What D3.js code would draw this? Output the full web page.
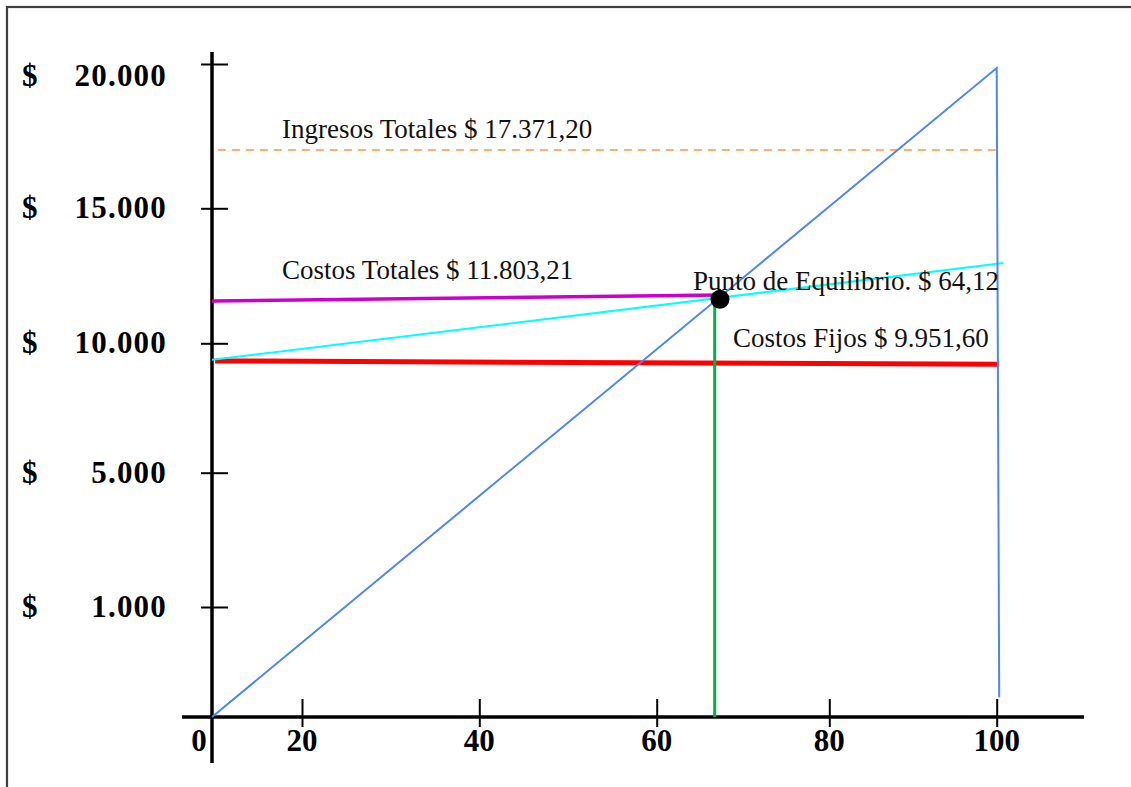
<!DOCTYPE html>
<html><head><meta charset="utf-8">
<script src="https://cdn.jsdelivr.net/npm/d3@7"></script>
<style>html,body{margin:0;padding:0;background:#fff;overflow:hidden;} svg{display:block;}</style>
</head><body>
<svg id="chart" width="1131" height="787"></svg>
<script>
// ---- data (in chart units) ----
const xTicks = [0, 20, 40, 60, 80, 100];
const xTickLabels = ["0", "20", "40", "60", "80", "100"];
const yTicks = [1000, 5000, 10000, 15000, 20000];
const yTickLabels = ["1.000", "5.000", "10.000", "15.000", "20.000"];

const ingresosTotales = [[1.3, 17020], [100.6, 17020]];      // orange dashed
const ingresosLinea   = [[0, 0], [100, 19860], [100.3, 180]]; // blue
const costosTotales   = [[0, 9360], [100.8, 12970]];         // cyan
const costosTotalesNivel = [[0, 11570], [67.3, 11790]];     // magenta
const costosFijos     = [[0.7, 9320], [100.3, 9190]];        // red
const equilibrioVertical = [[66.72, 0], [66.72, 11630]];     // green
const puntoEquilibrio = [67.33, 11630];

const labelTexts = [
  "Ingresos Totales $ 17.371,20",
  "Costos Totales $ 11.803,21",
  "Punto de Equilibrio. $ 64,12",
  "Costos Fijos $ 9.951,60"
];

// ---- layout ----
const svg = d3.select("#chart");
const serif = "'Liberation Serif','Times New Roman',serif";

// hand-drawn (non-uniform) axes -> polylinear scales
const x = d3.scaleLinear().domain(xTicks).range([212, 302, 479.3, 656.7, 829.3, 996.7]);
const y = d3.scaleLinear().domain([0].concat(yTicks)).range([717, 607, 472.7, 343.3, 208.3, 64]);

// frame
svg.append("rect").attr("x", 7).attr("y", 7).attr("width", 1300).attr("height", 900)
  .attr("fill", "none").attr("stroke", "#404040").attr("stroke-width", 2.2);

// axes
const x0 = x(0), y0 = y(0);
const gx = svg.append("g").attr("transform", `translate(0,${y0})`)
  .call(d3.axisBottom(x).tickValues(xTicks.slice(1)).tickSize(0).tickFormat(""));
gx.select(".domain").remove();
gx.selectAll(".tick line").attr("y1", -18).attr("y2", 10).attr("stroke", "#000").attr("stroke-width", 2);

const gy = svg.append("g").attr("transform", `translate(${x0},0)`)
  .call(d3.axisLeft(y).tickValues(yTicks).tickSize(0).tickFormat(""));
gy.select(".domain").remove();
gy.selectAll(".tick line").attr("x1", -11).attr("x2", 16).attr("stroke", "#000").attr("stroke-width", 2);

svg.append("line").attr("x1", 182).attr("x2", 1084).attr("y1", y0).attr("y2", y0)
  .attr("stroke", "#000").attr("stroke-width", 3.5);
svg.append("line").attr("x1", x0).attr("x2", x0).attr("y1", 52).attr("y2", 763)
  .attr("stroke", "#000").attr("stroke-width", 3.5);

// tick labels
svg.append("g").selectAll("text").data(xTicks).join("text")
  .attr("x", d => x(d) + (d === 0 ? -13 : 0))
  .attr("y", 751)
  .attr("text-anchor", "middle")
  .attr("font-family", serif).attr("font-weight", "bold").attr("font-size", 31)
  .text((d, i) => xTickLabels[i]);

const yl = svg.append("g");
yTicks.forEach((v, i) => {
  const by = y(v) + (v === 20000 ? 22 : 10);
  yl.append("text").attr("x", 22).attr("y", by)
    .attr("font-family", serif).attr("font-weight", "bold").attr("font-size", 31).text("$");
  yl.append("text").attr("x", 167).attr("y", by).attr("text-anchor", "end")
    .attr("font-family", serif).attr("font-weight", "bold").attr("font-size", 31)
    .attr("letter-spacing", 1.2).text(yTickLabels[i]);
});

const line = d3.line().x(d => x(d[0])).y(d => y(d[1]));

// series
svg.append("path").attr("d", line(ingresosTotales)).attr("fill", "none")
  .attr("stroke", "#F79646").attr("stroke-width", 1.6).attr("stroke-dasharray", "8,6");
svg.append("path").attr("d", line(costosFijos)).attr("fill", "none")
  .attr("stroke", "#FF0000").attr("stroke-width", 5);
svg.append("path").attr("d", line(costosTotales)).attr("fill", "none")
  .attr("stroke", "#00FFFF").attr("stroke-width", 2);
svg.append("path").attr("d", line(costosTotalesNivel)).attr("fill", "none")
  .attr("stroke", "#CC00CC").attr("stroke-width", 3.5);
svg.append("path").attr("d", line(ingresosLinea)).attr("fill", "none")
  .attr("stroke", "#4F86EC").attr("stroke-width", 2).attr("stroke-linejoin", "miter");
svg.append("path").attr("d", line(equilibrioVertical)).attr("fill", "none")
  .attr("stroke", "#00B050").attr("stroke-width", 3);
svg.append("circle").attr("cx", x(puntoEquilibrio[0])).attr("cy", y(puntoEquilibrio[1]))
  .attr("r", 9.5).attr("fill", "#000");

// annotations
const labelPos = [[282, 138], [282, 279], [693, 290], [733, 347]];
svg.append("g").selectAll("text").data(labelTexts).join("text")
  .attr("x", (d, i) => labelPos[i][0]).attr("y", (d, i) => labelPos[i][1])
  .attr("font-family", serif).attr("font-size", 27).attr("fill", "#111")
  .text(d => d);
</script>
</body></html>
